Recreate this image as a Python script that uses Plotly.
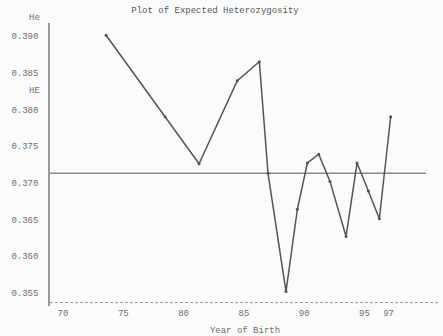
import plotly.graph_objects as go

years = [73.57, 78.46, 81.28, 84.45, 86.28, 87.0, 88.49, 89.43, 90.26, 91.2,
         92.14, 93.47, 94.38, 95.32, 96.23, 97.17]
he = [0.3901, 0.3790, 0.3726, 0.3839, 0.3865, 0.3713, 0.3552, 0.3664, 0.3727,
      0.3739, 0.3702, 0.3627, 0.3727, 0.3689, 0.3651, 0.3790]
mean_he = 0.3713
baseline = 0.3537
x_ticks = [70, 75, 80, 85, 90, 95, 97]
y_ticks = [0.355, 0.360, 0.365, 0.370, 0.375, 0.380, 0.385, 0.390]
y_labels = ["0.355", "0.360", "0.365", "0.370", "0.375", "0.380", "0.385", "0.390"]

MONO = "Liberation Mono, Courier New, monospace"
GREY = "#6e6e6e"

fig = go.Figure()
fig.add_trace(go.Scatter(
    x=[68.92, 100.1], y=[mean_he, mean_he], mode="lines",
    line=dict(color="#8a8a8a", width=1.5), hoverinfo="skip", showlegend=False))
fig.add_trace(go.Scatter(
    x=[68.92, 101.26], y=[baseline, baseline], mode="lines",
    line=dict(color="#9a9a9a", width=1, dash="3px,2px"), hoverinfo="skip", showlegend=False))
fig.add_trace(go.Scatter(
    x=years, y=he, mode="lines+markers",
    line=dict(color="#555555", width=1.5),
    marker=dict(color="#555555", size=3, symbol="circle"),
    showlegend=False))

fig.update_layout(
    width=443, height=336,
    margin=dict(l=50, r=3, t=23, b=30, autoexpand=False),
    paper_bgcolor="#fbfbfb", plot_bgcolor="#fbfbfb",
    font=dict(family=MONO, size=9, color=GREY),
    title=dict(text="Plot of Expected Heterozygosity", x=215 / 443, xanchor="center",
               y=1 - 10 / 336, yanchor="middle",
               font=dict(family=MONO, size=9, color="#555555")),
    xaxis=dict(range=[68.92, 101.26], tickvals=x_ticks, ticktext=[str(v) for v in x_ticks],
               showgrid=False, zeroline=False, showline=False, ticks="", automargin=False,
               tickfont=dict(family=MONO, size=9, color=GREY),
               title=dict(text="Year of Birth", standoff=9,
                          font=dict(family=MONO, size=9, color=GREY))),
    yaxis=dict(range=[0.35323, 0.39177], tickvals=y_ticks, ticktext=y_labels,
               showgrid=False, zeroline=False, showline=True, linecolor="#9a9a9a",
               linewidth=1.5, ticks="", ticklabelstandoff=8, automargin=False,
               tickfont=dict(family=MONO, size=9, color=GREY)),
)

fig.add_annotation(text="He", x=(42 - 50) / 390, y=(306 - 18) / 283, xref="paper", yref="paper",
                   showarrow=False, xanchor="right", yanchor="middle",
                   font=dict(family=MONO, size=9, color=GREY))
fig.add_annotation(text="HE", x=(42 - 50) / 390, y=(306 - 91) / 283, xref="paper", yref="paper",
                   showarrow=False, xanchor="right", yanchor="middle",
                   font=dict(family=MONO, size=9, color=GREY))

fig.write_html("out.html", config={"displayModeBar": False},
               post_script="document.body.style.margin='0';")
